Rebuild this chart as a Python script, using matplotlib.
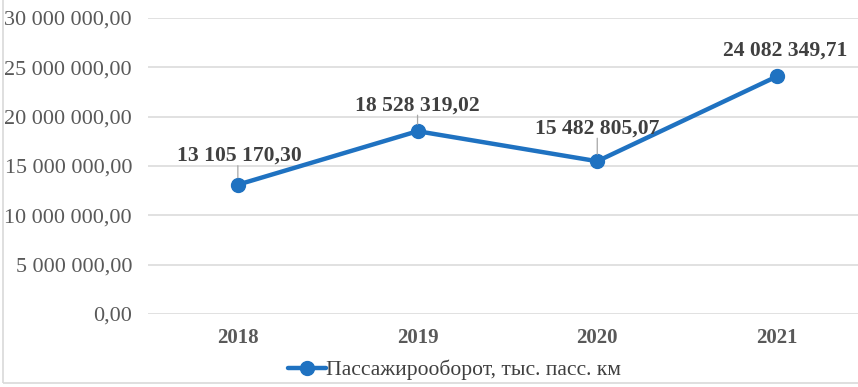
import matplotlib
matplotlib.use("Agg")
import matplotlib.pyplot as plt
from matplotlib.patches import Rectangle

years = ["2018", "2019", "2020", "2021"]
values = [13105170.30, 18528319.02, 15482805.07, 24082349.71]
series_name = "Пассажирооборот, тыс. пасс. км"
yticks = [0, 5000000, 10000000, 15000000, 20000000, 25000000, 30000000]

def fmt(v):
    s = f"{v:,.2f}"
    s = s.replace(",", " ").replace(".", ",")
    return s

plt.rcParams['font.family'] = ['Liberation Serif', 'DejaVu Serif']

W, H = 858, 387
fig = plt.figure(figsize=(W / 100, H / 100), dpi=100)
ax_left, ax_right = 148, 858
ax_top, ax_bot = 18, 314
ax = fig.add_axes([ax_left / W, (H - ax_bot) / H, (ax_right - ax_left) / W, (ax_bot - ax_top) / H])

unit = 179.7
x = list(range(len(years)))
ax.set_xlim(-0.5, -0.5 + (ax_right - ax_left) / unit)
ax.set_ylim(0, 30000000)

color = "#1F72C1"
ax.plot(x, values, color=color, lw=3.2, marker='o', ms=10, mfc=color, mec=color,
        solid_capstyle='round', zorder=3, label=series_name, clip_on=False)

ax.set_yticks(yticks)
ax.set_yticklabels([fmt(v) for v in yticks], fontsize=15.9, color="#595959")
ax.set_xticks(x)
ax.set_xticklabels(years, fontsize=15, fontweight='bold', color="#595959")
ax.tick_params(axis='both', length=0)
ax.tick_params(axis='y', pad=11.5)
ax.tick_params(axis='x', pad=10)
ax.grid(axis='y', color="#D9D9D9", lw=1.1)
ax.set_axisbelow(True)
for s in ax.spines.values():
    s.set_visible(False)

# data labels (offsets in pixels: dx, dy of label centre relative to point)
offsets = [(2, 29), (0, 26), (0, 33), (8, 26)]
leader = [True, True, True, False]
for xi, v, (dx, dy), ld in zip(x, values, offsets, leader):
    ax.annotate(fmt(v), xy=(xi, v), xytext=(dx * 0.72, dy * 0.72), textcoords='offset points',
                ha='center', va='center', fontsize=15.6, fontweight='bold', color="#404040", zorder=4)
    if ld:
        ax.annotate("", xy=(xi, v), xytext=(0, (dy - 10) * 0.72), textcoords='offset points',
                    arrowprops=dict(arrowstyle='-', color="#A6A6A6", lw=0.9, shrinkA=0, shrinkB=5))

leg = fig.legend(loc='center left', bbox_to_anchor=(288 / W, (H - 370) / H), frameon=False,
                 fontsize=15.6, handlelength=1.75, handletextpad=0.0, borderpad=0, borderaxespad=0)
for t in leg.get_texts():
    t.set_color("#404040")

fig.patches.append(Rectangle((3 / W, 4 / H), 1.2, 1.2, transform=fig.transFigure,
                             fill=False, edgecolor="#D9D9D9", lw=1.2))

fig.savefig("out.png", dpi=100)
